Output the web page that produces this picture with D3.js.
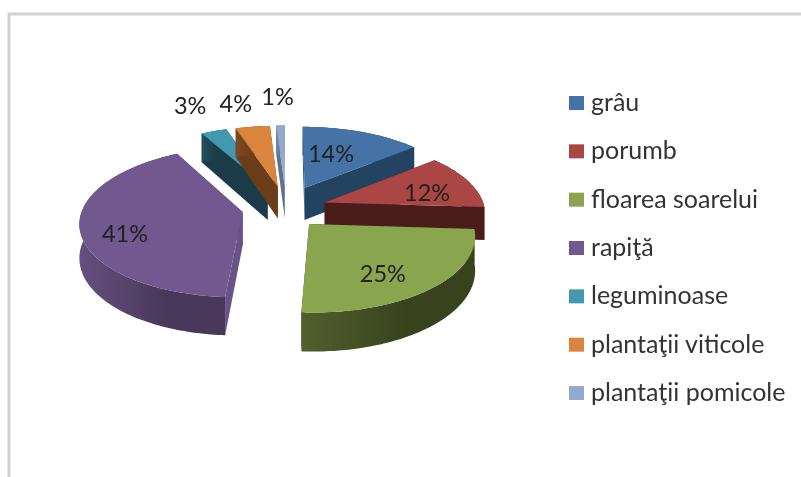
<!DOCTYPE html>
<html>
<head>
<meta charset="utf-8">
<script src="https://cdn.jsdelivr.net/npm/d3@7"></script>
<style>
  html, body { margin: 0; padding: 0; background: #fff; }
  svg { display: block; filter: blur(0.55px); }
  text { font-family: Lato, "Open Sans", sans-serif; }
</style>
</head>
<body>
<svg id="chart"></svg>
<script>
// Data
const categories = ["grâu", "porumb", "floarea soarelui", "rapiţă", "leguminoase", "plantaţii viticole", "plantaţii pomicole"];
const values = [14, 12, 25, 41, 3, 4, 1];
const topColors = ["#4573a7", "#aa4643", "#89a54e", "#71588f", "#4198af", "#db843d", "#93a9cf"];
const wallColors = ["#234362", "#4a1c1a", "#3b4620", "#6a5286", "#1a3b47", "#6b3d1a", "#5f6f8c"];
const rimLight = ["#2c4f73", "#5c2624", "#525f2e", "#664f80", "#245060", "#7c4a22", "#7286a8"];
const rimDark = ["#234362", "#4a1c1a", "#38431d", "#493859", "#1a3b47", "#6b3d1a", "#5f6f8c"];

const width = 801;
const height = 477;

const svg = d3.select("#chart")
    .attr("width", width)
    .attr("height", height);

// Frame of the original image (only top and left are visible)
svg.append("path")
    .attr("d", "M9,477V14H801")
    .attr("fill", "none")
    .attr("stroke", "#d2d2d2")
    .attr("stroke-width", 3);

// Tilted plane with a bit of perspective
const cx = 282, cy = 206;
const radiusX = 160, radiusY = 73, persp = 0.13;
const depth = 33;
const explode = 0.25;

// the slices don't pull apart evenly in the original, small screen shifts
const sliceShift = [[6, -2], [5, 2], [0, 4], [0, 2], [1, -2], [3, -2], [4, -2]];

function project(u, v, drop = 0) {
    const s = 1 / (1 + persp * v);
    return [cx + radiusX * u * s, cy - radiusY * v * s + drop * s];
}

const slices = d3.pie().sort(null)(values);
const line = d3.line();

function planePoint(d, angle, r) {
    const mid = (d.startAngle + d.endAngle) / 2;
    return [
        explode * Math.sin(mid) + r * Math.sin(angle),
        explode * Math.cos(mid) + r * Math.cos(angle)
    ];
}

// Gradient for the curved outer wall of each slice
const defs = svg.append("defs");
slices.forEach((d, i) => {
    const g = defs.append("linearGradient")
        .attr("id", "rim" + i)
        .attr("gradientUnits", "objectBoundingBox");
    g.append("stop").attr("offset", "0%").attr("stop-color", rimLight[i]);
    g.append("stop").attr("offset", "60%").attr("stop-color", rimDark[i]);
    g.append("stop").attr("offset", "100%").attr("stop-color", rimDark[i]);
});

// Back slices first, front slices last
const drawOrder = [3, 4, 5, 6, 0, 1, 2];

drawOrder.forEach(i => {
    const d = slices[i];
    const angles = d3.range(d.startAngle, d.endAngle, 0.02).concat(d.endAngle);
    const apex = planePoint(d, 0, 0);
    const arc = angles.map(a => planePoint(d, a, 1));
    const topPts = arc.map(p => project(p[0], p[1]));
    const lowPts = arc.map(p => project(p[0], p[1], depth));
    const g = svg.append("g")
        .attr("transform", `translate(${sliceShift[i][0]},${sliceShift[i][1]})`);

    const radialWall = (p) => [
        project(apex[0], apex[1]), project(p[0], p[1]),
        project(p[0], p[1], depth), project(apex[0], apex[1], depth)
    ];

    // end wall, start wall, outer wall, then the top face
    g.append("path").attr("d", line(radialWall(arc[arc.length - 1])) + "Z").attr("fill", wallColors[i]);
    g.append("path").attr("d", line(radialWall(arc[0])) + "Z").attr("fill", wallColors[i]);
    g.append("path")
        .attr("d", line(topPts.concat(lowPts.slice().reverse())) + "Z")
        .attr("fill", "url(#rim" + i + ")");
    g.append("path")
        .attr("d", line([project(apex[0], apex[1])].concat(topPts)) + "Z")
        .attr("fill", topColors[i]);
});

// Percent labels: radial fraction along the slice middle, then a nudge
const labelFrac = [0.57, 0.72, 0.55, 0.6, 1.12, 1.18, 1.3];
const labelNudge = [[-2, -3], [3, 8], [9, 20], [-21, 14], [-17, -21], [-10, -15], [2, -15]];

svg.selectAll("text.pct")
    .data(slices)
    .join("text")
    .attr("class", "pct")
    .attr("text-anchor", "middle")
    .attr("font-size", 23.5)
    .attr("fill", "#222")
    .attr("x", (d, i) => {
        const mid = (d.startAngle + d.endAngle) / 2;
        const p = planePoint(d, mid, labelFrac[i]);
        return project(p[0], p[1])[0] + labelNudge[i][0];
    })
    .attr("y", (d, i) => {
        const mid = (d.startAngle + d.endAngle) / 2;
        const p = planePoint(d, mid, labelFrac[i]);
        return project(p[0], p[1])[1] + labelNudge[i][1] + 8;
    })
    .text(d => d.value + "%");

// Legend
const legendY = d3.scalePoint().domain(categories).range([103, 393]);

const legend = svg.selectAll("g.legend")
    .data(categories)
    .join("g")
    .attr("class", "legend")
    .attr("transform", d => `translate(569,${legendY(d)})`);

legend.append("rect")
    .attr("x", 0)
    .attr("y", -7)
    .attr("width", 15)
    .attr("height", 14)
    .attr("fill", (d, i) => topColors[i]);

legend.append("text")
    .attr("x", 22)
    .attr("y", 8)
    .attr("font-size", 25)
    .attr("fill", "#333")
    .text(d => d);
</script>
</body>
</html>
